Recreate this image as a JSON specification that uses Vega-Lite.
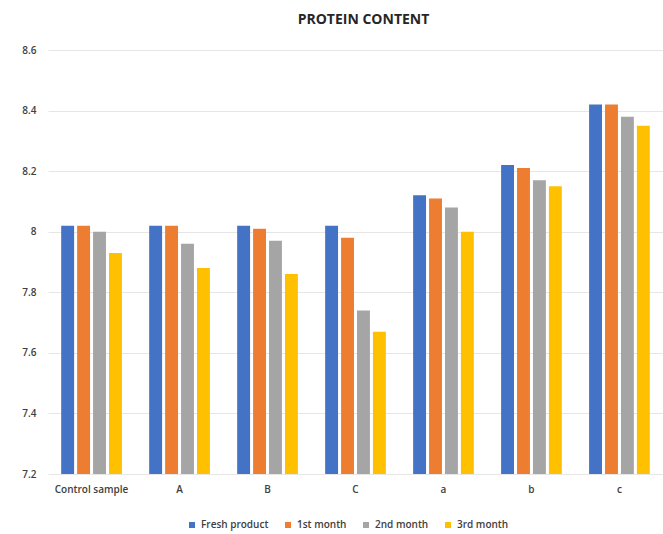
{
  "$schema": "https://vega.github.io/schema/vega-lite/v6.json",
  "width": 615,
  "height": 424,
  "autosize": {"type": "none"},
  "padding": {"left": 48, "top": 50, "right": 0, "bottom": 60},
  "background": "white",
  "title": {
    "text": "PROTEIN CONTENT",
    "fontSize": 14,
    "fontWeight": "bold",
    "font": "Open Sans",
    "color": "#262626",
    "anchor": "middle",
    "dx": 8,
    "offset": 18
  },
  "data": {
    "values": [
      {"sample": "Control sample", "period": "Fresh product", "protein": 8.02},
      {"sample": "Control sample", "period": "1st month", "protein": 8.02},
      {"sample": "Control sample", "period": "2nd month", "protein": 8.00},
      {"sample": "Control sample", "period": "3rd month", "protein": 7.93},
      {"sample": "A", "period": "Fresh product", "protein": 8.02},
      {"sample": "A", "period": "1st month", "protein": 8.02},
      {"sample": "A", "period": "2nd month", "protein": 7.96},
      {"sample": "A", "period": "3rd month", "protein": 7.88},
      {"sample": "B", "period": "Fresh product", "protein": 8.02},
      {"sample": "B", "period": "1st month", "protein": 8.01},
      {"sample": "B", "period": "2nd month", "protein": 7.97},
      {"sample": "B", "period": "3rd month", "protein": 7.86},
      {"sample": "C", "period": "Fresh product", "protein": 8.02},
      {"sample": "C", "period": "1st month", "protein": 7.98},
      {"sample": "C", "period": "2nd month", "protein": 7.74},
      {"sample": "C", "period": "3rd month", "protein": 7.67},
      {"sample": "a", "period": "Fresh product", "protein": 8.12},
      {"sample": "a", "period": "1st month", "protein": 8.11},
      {"sample": "a", "period": "2nd month", "protein": 8.08},
      {"sample": "a", "period": "3rd month", "protein": 8.00},
      {"sample": "b", "period": "Fresh product", "protein": 8.22},
      {"sample": "b", "period": "1st month", "protein": 8.21},
      {"sample": "b", "period": "2nd month", "protein": 8.17},
      {"sample": "b", "period": "3rd month", "protein": 8.15},
      {"sample": "c", "period": "Fresh product", "protein": 8.42},
      {"sample": "c", "period": "1st month", "protein": 8.42},
      {"sample": "c", "period": "2nd month", "protein": 8.38},
      {"sample": "c", "period": "3rd month", "protein": 8.35}
    ]
  },
  "mark": {"type": "bar", "clip": true},
  "encoding": {
    "x": {
      "field": "sample",
      "type": "nominal",
      "sort": ["Control sample", "A", "B", "C", "a", "b", "c"],
      "scale": {"paddingInner": 0.31, "paddingOuter": 0.15},
      "axis": {
        "title": null,
        "labelAngle": 0,
        "ticks": false,
        "domain": false,
        "labelPadding": 10,
        "labelFontSize": 10,
        "labelFont": "Open Sans",
        "labelFontWeight": 600,
        "labelColor": "#404040"
      }
    },
    "xOffset": {
      "field": "period",
      "type": "nominal",
      "sort": ["Fresh product", "1st month", "2nd month", "3rd month"],
      "scale": {"paddingInner": 0.19, "paddingOuter": 0}
    },
    "y": {
      "field": "protein",
      "type": "quantitative",
      "scale": {"domain": [7.2, 8.6], "zero": false, "nice": false},
      "axis": {
        "title": null,
        "values": [7.2, 7.4, 7.6, 7.8, 8.0, 8.2, 8.4, 8.6],
        "format": ".1~f",
        "ticks": false,
        "domain": false,
        "labelPadding": 12,
        "labelFontSize": 10,
        "labelFont": "Open Sans",
        "labelFontWeight": 600,
        "labelColor": "#404040",
        "grid": true,
        "gridColor": "#e6e6e6",
        "gridWidth": 1
      }
    },
    "color": {
      "field": "period",
      "type": "nominal",
      "sort": ["Fresh product", "1st month", "2nd month", "3rd month"],
      "scale": {
        "domain": ["Fresh product", "1st month", "2nd month", "3rd month"],
        "range": ["#4472C4", "#ED7D31", "#A5A5A5", "#FFC000"]
      },
      "legend": {
        "title": null,
        "orient": "none",
        "direction": "horizontal",
        "legendX": 139,
        "legendY": 470,
        "symbolType": "square",
        "symbolSize": 36,
        "symbolStrokeWidth": 0,
        "labelFontSize": 10,
        "labelFont": "Open Sans",
        "labelFontWeight": 600,
        "labelColor": "#404040",
        "labelOffset": 4,
        "columnPadding": 14
      }
    }
  },
  "config": {
    "view": {"stroke": null}
  }
}
